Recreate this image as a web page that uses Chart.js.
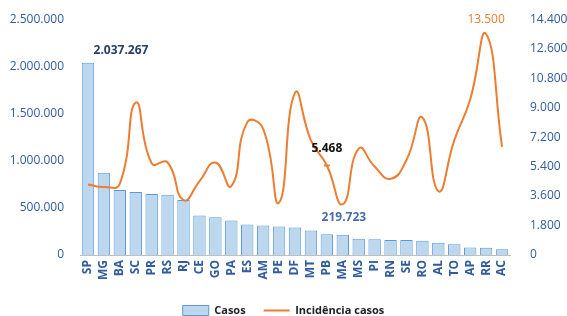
<!DOCTYPE html>
<html>
<head>
<meta charset="utf-8">
<script src="https://cdn.jsdelivr.net/npm/chart.js@4/dist/chart.umd.min.js"></script>
<style>
  html, body { margin: 0; padding: 0; background: #fff; }
  #wrap { width: 567px; height: 316px; }
</style>
</head>
<body>
<div id="wrap"><canvas id="chart" width="567" height="316"></canvas></div>
<script>
const estados = ['SP', 'MG', 'BA', 'SC', 'PR', 'RS', 'RJ', 'CE', 'GO', 'PA', 'ES', 'AM', 'PE', 'DF',
  'MT', 'PB', 'MA', 'MS', 'PI', 'RN', 'SE', 'RO', 'AL', 'TO', 'AP', 'RR', 'AC'];
const casos = [2037267, 872000, 690000, 668000, 648000, 640000, 582000, 420000, 400000, 366000,
  323000, 312000, 302000, 291000, 259000, 219723, 215000, 172000, 168000, 160000, 158000,
  150000, 130000, 115000, 80000, 78000, 60000];
const incidencia = [4300, 4150, 4350, 9300, 5600, 5650, 3350, 4500, 5650, 4200, 8100, 7700, 3200,
  9900, 7000, 5468, 3100, 6500, 5400, 4650, 5800, 8400, 3900, 7000, 9500, 13500, 6600];
const ticksCasos = [0, 500000, 1000000, 1500000, 2000000, 2500000];
const ticksIncid = [0, 1800, 3600, 5400, 7200, 9000, 10800, 12600, 14400];

// rótulos de dados: [dataset, índice]
const rotulos = [[0, 0], [0, 15], [1, 15], [1, 25]];

const azul = '#2F5C9E';
const laranja = '#ED7D31';

function fmt (v) {
  return String(v).replace(/\B(?=(\d{3})+(?!\d))/g, '.');
}

const rotulosPlugin = {
  id: 'rotulos',
  afterDatasetsDraw (chart) {
    const ctx = chart.ctx;
    const x = chart.scales.x;
    ctx.save();
    ctx.textAlign = 'center';
    ctx.textBaseline = 'middle';
    ctx.font = 'bold 12px "Open Sans"';
    rotulos.forEach(([ds, i]) => {
      const v = chart.data.datasets[ds].data[i];
      const px = x.getPixelForValue(i);
      if (ds === 0) {
        const py = chart.scales.y.getPixelForValue(v);
        if (i === 0) {
          ctx.fillStyle = '#243F66';
          ctx.fillText(fmt(v), px + 33, py - 12);
        } else {
          ctx.fillStyle = '#4A6EA8';
          ctx.fillText(fmt(v), px + 17, py - 17);
        }
      } else {
        const py = chart.scales.y2.getPixelForValue(v);
        if (i === 25) {
          ctx.fillStyle = laranja;
          ctx.font = '12px "Open Sans"';
          ctx.fillText(fmt(v), px, py - 14);
        } else {
          ctx.fillStyle = '#111';
          ctx.fillText(fmt(v), px, py - 17);
        }
      }
    });
    ctx.restore();
  }
};

new Chart(document.getElementById('chart'), {
  data: {
    labels: estados,
    datasets: [
      {
        type: 'bar',
        label: 'Casos',
        data: casos,
        yAxisID: 'y',
        backgroundColor: '#BDD7EE',
        borderColor: '#5B9BD5',
        borderWidth: 1,
        barPercentage: 0.78,
        categoryPercentage: 1,
        pointStyle: 'rect',
        order: 1
      },
      {
        type: 'line',
        label: 'Incidência casos',
        data: incidencia,
        yAxisID: 'y2',
        borderColor: laranja,
        backgroundColor: laranja,
        borderWidth: 2,
        tension: 0.5,
        pointRadius: incidencia.map((v, i) => i === 15 ? 3 : 0),
        pointStyle: 'line',
        order: 0
      }
    ]
  },
  options: {
    responsive: false,
    animation: false,
    layout: { padding: { top: 19, left: 0, right: 0, bottom: -10 } },
    plugins: {
      tooltip: { enabled: false },
      legend: {
        position: 'bottom',
        reverse: true,
        labels: {
          usePointStyle: true,
          pointStyleWidth: 26,
          boxHeight: 10,
          color: '#222',
          padding: 18,
          font: { family: 'Open Sans', size: 11, weight: 'bold' }
        }
      }
    },
    scales: {
      x: {
        grid: { display: false, drawTicks: false },
        border: { color: '#BFBFBF' },
        afterFit (s) { s.height = 32; },
        ticks: {
          color: azul,
          minRotation: 90,
          maxRotation: 90,
          autoSkip: false,
          padding: 5,
          font: { family: 'Open Sans', size: 12, weight: 'bold' }
        }
      },
      y: {
        position: 'left',
        min: 0,
        max: 2500000,
        afterBuildTicks (s) { s.ticks = ticksCasos.map(v => ({ value: v })); },
        afterFit (s) { s.width = 80; },
        grid: { display: false },
        border: { display: false },
        ticks: {
          color: azul,
          padding: 8,
          font: { family: 'Open Sans', size: 12 },
          callback: v => fmt(v)
        }
      },
      y2: {
        position: 'right',
        min: 0,
        max: 14400,
        afterBuildTicks (s) { s.ticks = ticksIncid.map(v => ({ value: v })); },
        afterFit (s) { s.width = 57; },
        grid: { display: false },
        border: { display: false },
        ticks: {
          color: azul,
          padding: 12,
          font: { family: 'Open Sans', size: 12 },
          callback: v => fmt(v)
        }
      }
    }
  },
  plugins: [rotulosPlugin]
});
</script>
</body>
</html>
